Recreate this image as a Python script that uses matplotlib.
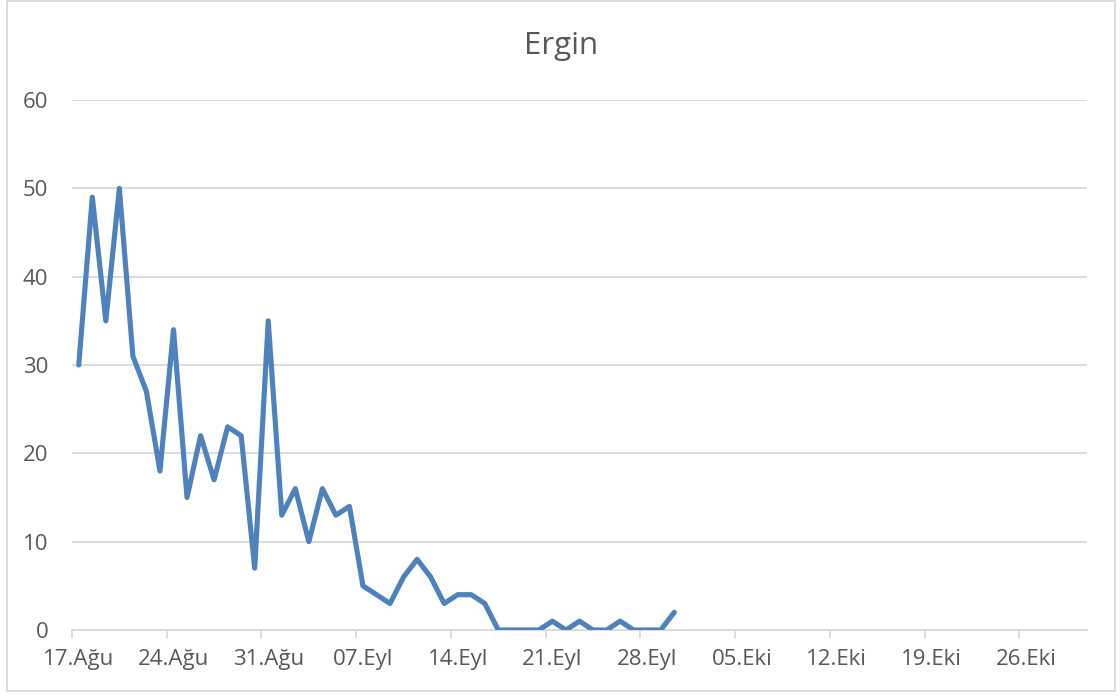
import matplotlib
matplotlib.use("Agg")
import matplotlib.pyplot as plt
from matplotlib.patches import Rectangle
import pandas as pd

# daily counts from 17 Aug to 30 Sep
START = "2020-08-17"
values = [30, 49, 35, 50, 31, 27, 18, 34, 15, 22, 17, 23, 22, 7, 35,
          13, 16, 10, 16, 13, 14, 5, 4, 3, 6, 8, 6, 3, 4, 4, 3, 0, 0,
          0, 0, 1, 0, 1, 0, 0, 1, 0, 0, 0, 2]
tick_dates = ["2020-08-17", "2020-08-24", "2020-08-31", "2020-09-07",
              "2020-09-14", "2020-09-21", "2020-09-28", "2020-10-05",
              "2020-10-12", "2020-10-19", "2020-10-26"]
tick_labels = ["17.Ağu", "24.Ağu", "31.Ağu", "07.Eyl", "14.Eyl", "21.Eyl",
               "28.Eyl", "05.Eki", "12.Eki", "19.Eki", "26.Eki"]
x_end = "2020-10-30"
y_ticks = [0, 10, 20, 30, 40, 50, 60]
title = "Ergin"

TEXT = "#595959"
GRID = "#D9D9D9"
BLUE = "#4F81BD"

plt.rcParams['font.family'] = ['Open Sans', 'DejaVu Sans']

dates = pd.date_range(START, periods=len(values), freq="D")
half = pd.Timedelta(hours=12)
ticks = pd.to_datetime(tick_dates)

fig = plt.figure(figsize=(11.2, 6.97), dpi=100)
W, H = 1120, 697
ax = fig.add_axes([72 / W, (H - 630) / H, (1087 - 72) / W, (630 - 100) / H])

ax.plot(dates, values, color=BLUE, linewidth=3.7,
        solid_joinstyle='round', solid_capstyle='round', zorder=3)

ax.set_xlim(pd.Timestamp(START) - half, pd.Timestamp(x_end) + half)
ax.set_ylim(0, 60)

# labels sit on the dates, tick marks between the day slots
ax.set_xticks(ticks)
ax.set_xticklabels(tick_labels)
ax.set_xticks(ticks - half, minor=True)
ax.tick_params(axis='x', which='major', length=0, pad=14, labelsize=16, labelcolor=TEXT)
ax.tick_params(axis='x', which='minor', length=6, width=1.3, color=GRID)

ax.set_yticks(y_ticks)
ax.tick_params(axis='y', length=0, pad=17, labelsize=16, labelcolor=TEXT)
ax.yaxis.grid(True, color=GRID, linewidth=1.3)
ax.set_axisbelow(True)

for s in ['top', 'right', 'left']:
    ax.spines[s].set_visible(False)
ax.spines['bottom'].set_color(GRID)
ax.spines['bottom'].set_linewidth(1.3)

fig.text(561 / W, 1 - 46 / H, title, ha='center', va='center', fontsize=22.5, color=TEXT)

# chart area border
fig.patches.append(Rectangle((7 / W, 1 - 691 / H), (1115 - 7) / W, (691 - 1) / H,
                             transform=fig.transFigure, fill=False,
                             edgecolor=GRID, linewidth=1.3))

fig.savefig("out.png", dpi=100)
